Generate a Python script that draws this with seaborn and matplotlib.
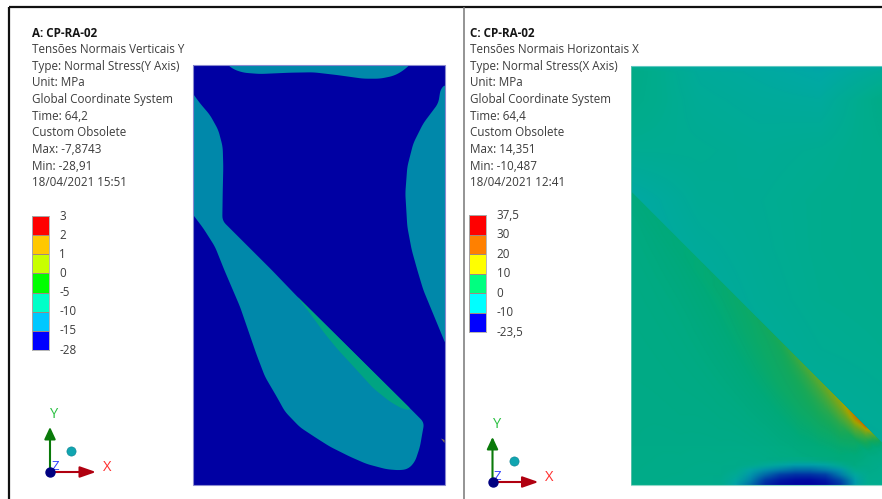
import numpy as np
import seaborn as sns
import matplotlib
matplotlib.use("Agg")
import matplotlib.pyplot as plt
from matplotlib.colors import ListedColormap, LinearSegmentedColormap, Normalize
from matplotlib.patches import Polygon, Rectangle

sns.set_theme(style="white")
plt.rcParams['font.family'] = ['Open Sans', 'DejaVu Sans']

# ---------- text ----------
info_a = ["Tensões Normais Verticais Y", "Type: Normal Stress(Y Axis)", "Unit: MPa",
          "Global Coordinate System", "Time: 64,2", "Custom Obsolete",
          "Max: -7,8743", "Min: -28,91", "18/04/2021 15:51"]
info_c = ["Tensões Normais Horizontais X", "Type: Normal Stress(X Axis)", "Unit: MPa",
          "Global Coordinate System", "Time: 64,4", "Custom Obsolete",
          "Max: 14,351", "Min: -10,487", "18/04/2021 12:41"]
title_a = "A: CP-RA-02"
title_c = "C: CP-RA-02"

# ---------- legends ----------
legend_a_labels = ["3", "2", "1", "0", "-5", "-10", "-15", "-28"]
legend_a_colors = ["#FF0000", "#FFC800", "#C8FF00", "#00FF00", "#00FFC8", "#00C8FF", "#0000FF"]
legend_c_labels = ["37,5", "30", "20", "10", "0", "-10", "-23,5"]
legend_c_colors = ["#FF0000", "#FF8000", "#FFFF00", "#00FF80", "#00FFFF", "#0000FF"]

# ---------- panel A contour regions (image pixels) ----------
panel_a_box = (192.7, 65.3, 444.5, 485)
a_top_band = [(226.7, 64), (233.3, 69.3), (243.3, 72.7), (260, 74), (290, 72.7), (313.3, 72.3),
              (336.7, 75), (363.3, 78.7), (380, 78.7), (393.3, 76), (401.7, 71.7), (411, 64)]
a_left_body = [(191, 91), (200, 103.3), (210, 115), (218.3, 130), (222.7, 146.7), (223.3, 166.7),
               (222.7, 193.3), (222.3, 220.7), (271.7, 270), (296.7, 296), (411.7, 410), (424.3, 422.7),
               (422.3, 433.3), (420, 446.7), (415, 461.7), (408.3, 469), (400, 470.3), (386.7, 469.3),
               (366.7, 464), (350, 456.7), (330, 446.7), (316.7, 438.3), (300, 427.3), (285, 411.7),
               (276.7, 396.7), (265, 376.7), (256.7, 355), (240, 306.7), (224.3, 270), (215, 246.7),
               (203.3, 228.3), (191, 212)]
a_sliver = [(296.7, 296), (411.7, 410), (403.3, 409.3), (390, 401.7), (373.3, 388.3), (356.7, 370),
            (336.7, 348.3), (323.3, 331.7), (310, 313.3)]
a_right_band = [(446, 84), (440.7, 88.3), (438.3, 103.3), (433.3, 110), (423.3, 123.3), (413.3, 143.3),
                (407.3, 166.7), (405.3, 193.3), (407.3, 226.7), (411.7, 250), (417.3, 270), (423.3, 290),
                (446, 345)]
a_speck = [(441, 438.5), (444.5, 440), (444.5, 443)]
a_dark_blue, a_teal, a_green = "#0000A3", "#0088AA", "#00A482"

# ---------- panel C stress field ----------
panel_c_box = (631, 66, 882, 485)
field_stops = [(-10.5, "#0000A0"), (-7, "#0040A6"), (-4.5, "#0088AA"), (-3, "#009CAA"), (-2, "#00A8A6"),
               (0, "#00AC90"), (2, "#00AA7A"), (3.5, "#14A85C"), (6, "#58A832"), (9, "#A8A400"),
               (11, "#C07A00"), (14.4, "#CC4010")]

upper_x = [631, 700, 760, 820, 882]
upper_y = [66, 72, 100, 150, 200, 250, 300, 350, 400, 445]
upper_v = [[-0.3, -1.8, -2.0, -2.6, -1.6],
           [ 0.9, -0.9, -1.4, -2.0, -0.6],
           [ 0.7, -0.6, -1.0, -1.2,  0.8],
           [-0.2, -0.2, -0.5, -0.2,  0.4],
           [-1.8, -0.5, -0.3,  0.1,  0.3],
           [-2.0, -1.0, -0.4,  0.1,  0.3],
           [-2.0, -1.4, -0.6,  0.0,  0.2],
           [-2.0, -1.8, -1.0, -0.3,  0.0],
           [-2.0, -2.0, -1.5, -0.9, -0.4],
           [-2.0, -2.0, -1.8, -1.3, -0.9]]

lower_x = [631, 680, 720, 750, 780, 800, 820, 840, 855, 865, 872, 882]
lower_d = [0, 5, 12, 25, 45, 70, 110, 170, 250, 310]
lower_v = [[1.8, 2.1, 2.5, 2.9, 3.8, 5.2, 6.2, 8.0, 11.0, 12.0, 7.0, 2.0],
           [1.7, 2.0, 2.4, 2.9, 3.6, 4.8, 5.9, 7.4,  9.6,  8.0, 4.5, 1.5],
           [1.6, 2.0, 2.4, 2.8, 3.4, 4.2, 5.1, 6.2,  6.6,  4.8, 2.5, 0.8],
           [1.4, 1.8, 2.2, 2.7, 3.2, 3.6, 4.1, 4.2,  3.2,  1.8, 1.0, 0.3],
           [1.3, 1.6, 2.0, 2.4, 2.9, 3.1, 3.1, 2.6,  1.6,  0.6, 0.2,-0.1],
           [1.2, 1.4, 1.7, 2.0, 2.2, 2.3, 1.9, 1.2,  0.4, -0.1,-0.3,-0.5],
           [1.1, 1.2, 1.3, 1.3, 1.2, 0.8, 0.3,-0.2, -0.6, -0.8,-0.9,-1.0],
           [1.0, 1.0, 0.8, 0.4,-0.1,-0.6,-0.9,-1.1, -1.2, -1.2,-1.2,-1.2],
           [0.9, 0.6, 0.1,-0.4,-1.0,-1.2,-1.2,-1.2, -1.2, -1.2,-1.2,-1.2],
           [0.7, 0.3,-0.2,-0.7,-1.2,-1.2,-1.2,-1.2, -1.2, -1.2,-1.2,-1.2]]

blob_x = [720, 735, 750, 765, 780, 795, 810, 825, 840, 855, 870]
blob_y = [460, 465, 470, 475, 480, 485, 490]
blob_v = [[-1.2, -1.2, -1.2, -1.2, -1.3, -1.4, -1.4, -1.3, -1.2, -1.2, -1.2],
          [-1.2, -1.2, -1.4, -1.9, -2.3, -2.7, -2.7, -2.4, -1.8, -1.2, -1.2],
          [-1.2, -1.4, -2.4, -3.8, -4.8, -5.4, -5.4, -4.8, -3.4, -1.6, -1.2],
          [-1.2, -1.8, -3.4, -5.6, -7.0, -7.8, -7.8, -7.0, -5.0, -2.2, -1.2],
          [-1.3, -2.2, -4.6, -7.2, -9.0, -9.8, -9.9, -9.0, -6.6, -2.8, -1.2],
          [-1.3, -2.6, -5.4, -8.4,-10.0,-10.4,-10.5,-10.0, -7.6, -3.2, -1.2],
          [-1.3, -2.6, -5.4, -8.4,-10.0,-10.4,-10.5,-10.0, -7.6, -3.2, -1.2]]

# ---------- triads ----------
triad_a = (50, 472)
triad_c = (492.5, 482)

# ---------- helpers ----------
def soften(poly, step=2.0, half=2):
    """Round the digitised outline slightly: the contours in the picture are smooth."""
    p = np.array(poly + poly[:1], float)
    seg = np.hypot(*np.diff(p, axis=0).T)
    s = np.r_[0, np.cumsum(seg)]
    t = np.arange(0, s[-1], step)
    x, y = np.interp(t, s, p[:, 0]), np.interp(t, s, p[:, 1])
    k = np.ones(2 * half + 1) / (2 * half + 1)
    wrap = lambda a: np.convolve(np.r_[a[-half:], a, a[:half]], k, mode="valid")
    return np.c_[wrap(x), wrap(y)]

def refine(xs, ys, v, n=1.0):
    """Bilinear display mesh over a read-off table, so the renderer shows no triangle pattern."""
    xs, ys, v = np.asarray(xs, float), np.asarray(ys, float), np.asarray(v, float)
    fx = np.arange(xs[0], xs[-1] + n, n)
    fy = np.arange(ys[0], ys[-1] + n, n)
    a = np.array([np.interp(fx, xs, row) for row in v])
    b = np.array([np.interp(fy, ys, col) for col in a.T]).T
    return fx, fy, b

# ---------- figure ----------
fig = plt.figure(figsize=(8.82, 4.99), dpi=100, facecolor="white")
ax = fig.add_axes([0, 0, 1, 1])
ax.set_xlim(0, 882)
ax.set_ylim(499, 0)
ax.axis("off")

TXT = "#3c3c3c"
LINE_Y = [49.5, 66.2, 82.8, 99.5, 116, 132.8, 149.5, 166, 182.8]
for x0, title, info in ((32, title_a, info_a), (469.5, title_c, info_c)):
    ax.text(x0, 33, title, fontsize=8.4, fontweight="bold", color="#151515", va="center", ha="left")
    for y, s in zip(LINE_Y, info):
        ax.text(x0, y, s, fontsize=8.4, color=TXT, va="center", ha="left")

# frame
ax.plot([8.5, 882], [7.3, 7.3], color="#111111", lw=1.6, solid_capstyle="butt")
ax.plot([9, 9], [7, 499], color="#111111", lw=1.6, solid_capstyle="butt")
ax.plot([464, 464], [7, 499], color="#777777", lw=1.1, solid_capstyle="butt")

# panel A
x0, y0, x1, y1 = panel_a_box
ax.add_patch(Rectangle((x0, y0), x1 - x0, y1 - y0, fc=a_dark_blue, ec="none", zorder=2))
for poly, col in ((a_top_band, a_teal), (a_left_body, a_teal), (a_right_band, a_teal), (a_sliver, a_green)):
    pg = Polygon(soften(poly), closed=True, fc=col, ec="none", zorder=3)
    ax.add_patch(pg)
    pg.set_clip_path(Rectangle((x0, y0), x1 - x0, y1 - y0, transform=ax.transData))
ax.add_patch(Polygon(a_speck, closed=True, fc="#8A7A50", ec="none", zorder=3))
ax.add_patch(Rectangle((x0, y0), x1 - x0, y1 - y0, fc="none", ec="#8A8AD0", lw=0.8, zorder=4))

# panel C
cn = Normalize(field_stops[0][0], field_stops[-1][0])
cmap = LinearSegmentedColormap.from_list("field", [(cn(v), c) for v, c in field_stops])
x0, y0, x1, y1 = panel_c_box
diag = lambda x: np.asarray(x, float) - 439.0
inner = lambda: Rectangle((x0 + 0.8, y0 + 0.8), x1 - x0, y1 - y0, transform=ax.transData)
lower_clip = Polygon([(x0 + 0.8, diag(x0)), (x1, diag(x1)), (x1, y1), (x0 + 0.8, y1)], transform=ax.transData)
ax.add_patch(Rectangle((x0, y0), x1 - x0, y1 - y0, fc=cmap(cn(0.3)), ec="none", zorder=1.5))
fx, fy, fv = refine(upper_x, upper_y, upper_v)
ux, uy = np.meshgrid(fx, fy)
m1 = ax.pcolormesh(ux, uy, fv, shading="gouraud", cmap=cmap, norm=cn, zorder=2)
m1.set_clip_path(inner())
fx, fy, fv = refine(lower_x, lower_d, lower_v)
lx, ld = np.meshgrid(fx, fy)
m2 = ax.pcolormesh(lx, diag(lx) + ld, fv, shading="gouraud", cmap=cmap, norm=cn, zorder=2.5)
m2.set_clip_path(lower_clip)

# cold spot at the bottom edge, blended over the field
bv = np.array(blob_v)
rgba = cmap(cn(bv))
rgba[..., 3] = np.clip((-1.2 - bv) / 1.4, 0, 1)
im = ax.imshow(rgba, extent=(blob_x[0] - 7.5, blob_x[-1] + 7.5, blob_y[-1] + 2.5, blob_y[0] - 2.5),
               interpolation="bilinear", aspect="auto", zorder=3)
im.set_clip_path(Rectangle((x0, y0), x1 - x0, y1 - y0, transform=ax.transData))
ax.set_xlim(0, 882)
ax.set_ylim(499, 0)

ax.plot([x0, x0], [y0, y1], color="#60C4AE", lw=0.6, zorder=4)
ax.plot([x0, x1], [y0, y0], color="#60C8C0", lw=0.8, zorder=4)
ax.plot([x0, x1], [y1, y1], color="#8FD8C8", lw=0.8, zorder=4)

# legends
def legend(colors, labels, x, y_top, y_bot, label_x):
    a = fig.add_axes([x / 882, 1 - y_bot / 499, 17 / 882, (y_bot - y_top) / 499])
    vals = np.arange(len(colors)).reshape(-1, 1)
    sns.heatmap(vals, cmap=ListedColormap(colors), cbar=False, ax=a, xticklabels=False, yticklabels=False,
                linewidths=0.5, linecolor="#A08880", vmin=-0.5, vmax=len(colors) - 0.5)
    for s in a.spines.values():
        s.set_visible(True)
        s.set_color("#AAAAAA")
        s.set_linewidth(0.6)
    for y, s in zip(np.linspace(y_top, y_bot, len(labels)), labels):
        ax.text(label_x, y, s, fontsize=8.4, color=TXT, va="center", ha="left")

legend(legend_a_colors, legend_a_labels, 32, 216, 350, 59.5)
legend(legend_c_colors, legend_c_labels, 469.3, 215.5, 332, 496.5)

# triads
def triad(o):
    ox, oy = o
    ax.annotate("", xy=(ox, oy - 45), xytext=(ox, oy),
                arrowprops=dict(arrowstyle="-|>,head_width=0.28,head_length=0.6", color="#0A7A0A", lw=1.5,
                                shrinkA=0, shrinkB=0))
    ax.annotate("", xy=(ox + 46, oy), xytext=(ox, oy),
                arrowprops=dict(arrowstyle="-|>,head_width=0.28,head_length=0.8", color="#B00010", lw=1.5,
                                shrinkA=0, shrinkB=0))
    ax.scatter([ox + 21], [oy - 21], s=44, color="#10A5B0", edgecolors="#0B8090", linewidths=0.4, zorder=5)
    ax.text(ox + 4.5, oy - 57, "Y", color="#28C040", fontsize=10.5, ha="center", va="center")
    ax.text(ox + 57, oy - 4.5, "X", color="#FF3030", fontsize=10.5, ha="center", va="center")
    ax.text(ox + 5, oy - 5.5, "Z", color="#3040FF", fontsize=9.5, ha="center", va="center", zorder=6)
    ax.scatter([ox], [oy], s=42, color="#000080", zorder=7)

triad(triad_a)
triad(triad_c)

fig.savefig("out.png", dpi=100)
